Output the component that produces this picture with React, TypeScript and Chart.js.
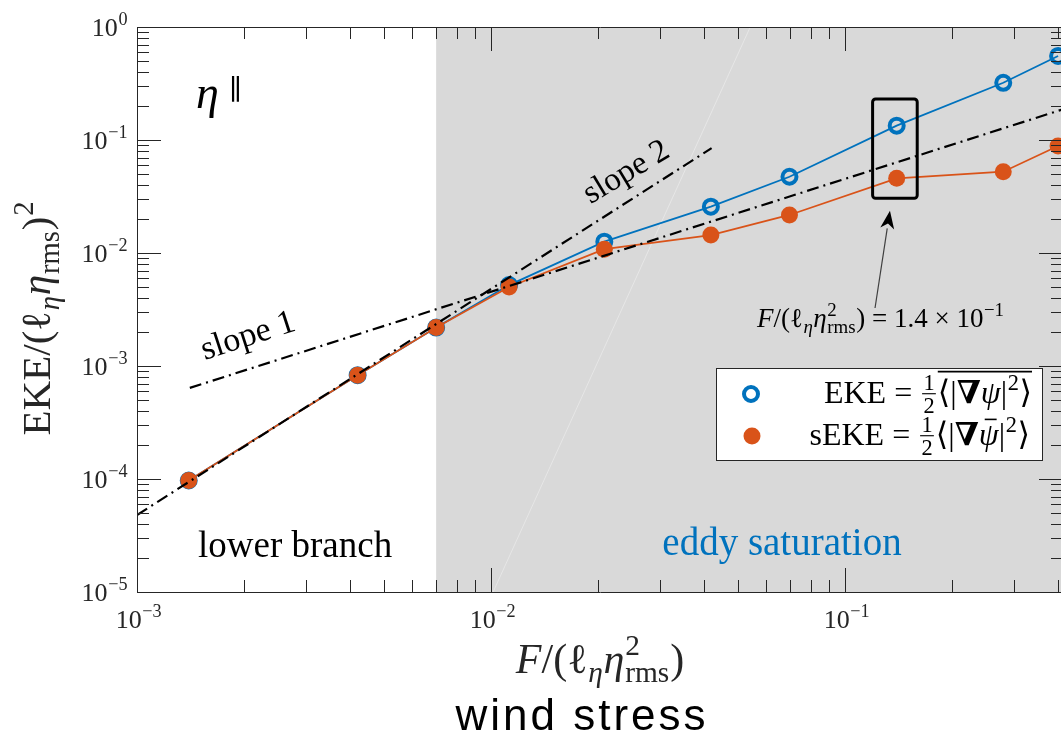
import React, { useEffect, useRef } from 'react';
import { Chart, registerables } from 'chart.js';

Chart.register(...registerables);

// Forcing F/(l_eta eta_rms^2) of each run and the two energy measures
const forcing = [1.4e-3, 4.2e-3, 7.0e-3, 1.125e-2, 2.09e-2, 4.18e-2, 6.97e-2, 1.4e-1, 2.8e-1, 4.0e-1];
const ekeValues = [9.7e-5, 8.3e-4, 2.19e-3, 5.2e-3, 1.26e-2, 2.57e-2, 4.73e-2, 1.34e-1, 3.21e-1, 5.54e-1];
const sekeValues = [9.7e-5, 8.3e-4, 2.19e-3, 5.0e-3, 1.08e-2, 1.44e-2, 2.17e-2, 4.58e-2, 5.24e-2, 8.85e-2];

// Reference power laws (end points)
const slopeOneX = [1.41e-3, 0.413];
const slopeOneY = [6.4e-4, 0.187];
const slopeTwoX = [1e-3, 0.042];
const slopeTwoY = [4.8e-5, 0.0847];

// Faint guide line across the shaded regime
const guideX = [0.01014, 0.054];
const guideY = [1e-5, 1];

// Start of the eddy-saturation regime
const saturationStart = 7.0e-3;

// Axis ranges and decade labels
const xRange = [1e-3, 0.413];
const yRange = [1e-5, 1];
const xDecades = [-3, -2, -1];
const yDecades = [0, -1, -2, -3, -4, -5];

// Highlighted run and its arrow
const highlightX = [0.1197, 0.16];
const highlightY = [0.0305, 0.2307];
const arrowFrom = [0.1216, 3.26e-3];
const arrowTo = [0.134, 0.0237];

const BLUE = '#0072BD';
const ORANGE = '#D95319';
const AXIS = '#262626';
const SERIF = "'Liberation Serif', 'DejaVu Serif', serif";
const SANS = "'Liberation Sans', Arial, sans-serif";

type Seg = {
  t?: string;
  it?: boolean;
  b?: boolean;
  sup?: string;
  sub?: string;
  subIt?: boolean;
  over?: boolean;
  bar?: boolean;
  frac?: [string, string];
};

function fontOf(size: number, it?: boolean, b?: boolean, family = SERIF) {
  return `${it ? 'italic ' : ''}${b ? 'bold ' : ''}${size}px ${family}`;
}

function segWidth(ctx: CanvasRenderingContext2D, s: Seg, size: number) {
  if (s.frac) {
    ctx.font = fontOf(size * 0.7);
    return Math.max(ctx.measureText(s.frac[0]).width, ctx.measureText(s.frac[1]).width) + size * 0.2;
  }
  ctx.font = fontOf(size, s.it, s.b);
  const w = ctx.measureText(s.t || '').width;
  let extra = 0;
  if (s.sup) {
    ctx.font = fontOf(size * 0.7);
    extra = Math.max(extra, ctx.measureText(s.sup).width);
  }
  if (s.sub) {
    ctx.font = fontOf(size * 0.7, s.subIt);
    extra = Math.max(extra, ctx.measureText(s.sub).width);
  }
  return w + extra + (extra ? size * 0.04 : 0);
}

function drawRich(
  ctx: CanvasRenderingContext2D,
  segs: Seg[],
  x: number,
  y: number,
  size: number,
  align: 'left' | 'center' | 'right',
  color: string
) {
  const widths = segs.map((s) => segWidth(ctx, s, size));
  const total = widths.reduce((a, b) => a + b, 0);
  let cx = align === 'left' ? x : align === 'center' ? x - total / 2 : x - total;
  ctx.fillStyle = color;
  ctx.strokeStyle = color;
  ctx.textBaseline = 'alphabetic';
  ctx.textAlign = 'left';
  let overStart: number | null = null;
  let overEnd = 0;
  segs.forEach((s, i) => {
    const w = widths[i];
    if (s.frac) {
      ctx.font = fontOf(size * 0.7);
      ctx.textAlign = 'center';
      const mid = cx + w / 2;
      ctx.fillText(s.frac[0], mid, y - size * 0.4);
      ctx.fillText(s.frac[1], mid, y + size * 0.32);
      ctx.textAlign = 'left';
      ctx.lineWidth = Math.max(1, size * 0.035);
      ctx.beginPath();
      ctx.moveTo(cx + size * 0.06, y - size * 0.29);
      ctx.lineTo(cx + w - size * 0.06, y - size * 0.29);
      ctx.stroke();
    } else {
      ctx.font = fontOf(size, s.it, s.b);
      const tw = ctx.measureText(s.t || '').width;
      ctx.fillText(s.t || '', cx, y);
      if (s.bar) {
        ctx.lineWidth = Math.max(1, size * 0.05);
        ctx.beginPath();
        ctx.moveTo(cx + tw * 0.3, y - size * 0.8);
        ctx.lineTo(cx + tw * 0.9, y - size * 0.8);
        ctx.stroke();
      }
      if (s.sup) {
        ctx.font = fontOf(size * 0.7);
        ctx.fillText(s.sup, cx + tw + size * 0.02, y - size * 0.42);
      }
      if (s.sub) {
        ctx.font = fontOf(size * 0.7, s.subIt);
        ctx.fillText(s.sub, cx + tw + size * 0.02, y + size * 0.22);
      }
    }
    if (s.over) {
      if (overStart === null) overStart = cx;
      overEnd = cx + w;
    }
    cx += w;
  });
  if (overStart !== null) {
    ctx.lineWidth = Math.max(1, size * 0.05);
    ctx.beginPath();
    ctx.moveTo(overStart, y - size * 0.98);
    ctx.lineTo(overEnd, y - size * 0.98);
    ctx.stroke();
  }
}

const shadePlugin = {
  id: 'saturationShade',
  beforeDatasetsDraw(chart: any) {
    const { ctx, chartArea, scales } = chart;
    const x0 = scales.x.getPixelForValue(saturationStart);
    ctx.save();
    ctx.fillStyle = '#d9d9d9';
    ctx.fillRect(x0, chartArea.top, chartArea.right - x0, chartArea.bottom - chartArea.top);
    ctx.restore();
  },
};

const decorPlugin = {
  id: 'axesAndNotes',
  afterDatasetsDraw(chart: any) {
    const { ctx, chartArea, scales } = chart;
    const xs = scales.x;
    const ys = scales.y;
    const { left, right, top, bottom } = chartArea;
    ctx.save();

    // Highlight box around one run
    const bx0 = xs.getPixelForValue(highlightX[0]);
    const bx1 = xs.getPixelForValue(highlightX[1]);
    const by0 = ys.getPixelForValue(highlightY[1]);
    const by1 = ys.getPixelForValue(highlightY[0]);
    ctx.strokeStyle = '#000';
    ctx.lineWidth = 3;
    ctx.beginPath();
    ctx.roundRect(bx0, by0, bx1 - bx0, by1 - by0, 3);
    ctx.stroke();

    // Arrow pointing at the box
    const ax0 = xs.getPixelForValue(arrowFrom[0]);
    const ay0 = ys.getPixelForValue(arrowFrom[1]);
    const ax1 = xs.getPixelForValue(arrowTo[0]);
    const ay1 = ys.getPixelForValue(arrowTo[1]);
    const ang = Math.atan2(ay1 - ay0, ax1 - ax0);
    const hl = 18;
    const hw = 7;
    const bxp = ax1 - hl * Math.cos(ang);
    const byp = ay1 - hl * Math.sin(ang);
    ctx.strokeStyle = '#404040';
    ctx.lineWidth = 1.2;
    ctx.beginPath();
    ctx.moveTo(ax0, ay0);
    ctx.lineTo(bxp, byp);
    ctx.stroke();
    const nx = -Math.sin(ang);
    const ny = Math.cos(ang);
    const notchX = ax1 - (hl - 5) * Math.cos(ang);
    const notchY = ay1 - (hl - 5) * Math.sin(ang);
    ctx.fillStyle = '#000';
    ctx.beginPath();
    ctx.moveTo(ax1, ay1);
    ctx.lineTo(bxp + nx * hw, byp + ny * hw);
    ctx.lineTo(notchX, notchY);
    ctx.lineTo(bxp - nx * hw, byp - ny * hw);
    ctx.closePath();
    ctx.fill();

    // Frame and inward log ticks
    ctx.strokeStyle = AXIS;
    ctx.lineWidth = 1;
    ctx.beginPath();
    ctx.rect(Math.round(left) + 0.5, Math.round(top) + 0.5, Math.round(right - left), Math.round(bottom - top));
    ctx.stroke();
    ctx.beginPath();
    for (let d = -4; d <= 0; d++) {
      for (let m = 1; m <= 9; m++) {
        const v = m * Math.pow(10, d);
        if (v < xRange[0] * 0.999 || v > xRange[1] * 1.001) continue;
        const px = Math.round(xs.getPixelForValue(v)) + 0.5;
        const len = m === 1 ? 24 : 12;
        ctx.moveTo(px, bottom);
        ctx.lineTo(px, bottom - len);
        ctx.moveTo(px, top);
        ctx.lineTo(px, top + len);
      }
    }
    for (let d = -5; d <= 0; d++) {
      for (let m = 1; m <= 9; m++) {
        const v = m * Math.pow(10, d);
        if (v < yRange[0] * 0.999 || v > yRange[1] * 1.001) continue;
        const py = Math.round(ys.getPixelForValue(v)) + 0.5;
        const len = m === 1 ? 24 : 12;
        ctx.moveTo(left, py);
        ctx.lineTo(left + len, py);
        ctx.moveTo(right, py);
        ctx.lineTo(right - len, py);
      }
    }
    ctx.stroke();

    // Tick labels
    yDecades.forEach((d) => {
      const py = ys.getPixelForValue(Math.pow(10, d));
      const e = d === 0 ? '0' : '\u2212' + String(-d);
      drawRich(ctx, [{ t: '10', sup: e }], 128, py + 9, 26, 'right', AXIS);
    });
    xDecades.forEach((d) => {
      const px = xs.getPixelForValue(Math.pow(10, d));
      drawRich(ctx, [{ t: '10', sup: '\u2212' + String(-d) }], px + 2, 628, 26, 'center', AXIS);
    });

    // Axis titles
    drawRich(
      ctx,
      [
        { t: 'F', it: true },
        { t: '/(' },
        { t: '\u2113', sub: '\u03b7', subIt: true },
        { t: '\u03b7', it: true, sup: '2', sub: 'rms' },
        { t: ')' },
      ],
      600,
      673,
      42,
      'center',
      AXIS
    );
    ctx.save();
    ctx.translate(50, 318);
    ctx.rotate(-Math.PI / 2);
    drawRich(
      ctx,
      [
        { t: 'EKE/(' },
        { t: '\u2113', sub: '\u03b7', subIt: true },
        { t: '\u03b7', it: true, sub: 'rms' },
        { t: ')', sup: '2' },
      ],
      0,
      0,
      41,
      'center',
      AXIS
    );
    ctx.restore();

    // Caption under the axis
    ctx.font = `44px ${SANS}`;
    ctx.fillStyle = '#000';
    ctx.textAlign = 'center';
    (ctx as any).letterSpacing = '3px';
    ctx.fillText('wind stress', 582, 730);
    (ctx as any).letterSpacing = '0px';

    // Panel label
    drawRich(ctx, [{ t: '\u03b7', it: true }], 196, 108, 46, 'left', '#000');
    drawRich(ctx, [{ t: '\u2225' }], 229, 99, 28, 'left', '#000');

    // Slope labels
    ctx.save();
    ctx.translate(251, 345);
    ctx.rotate((-18 * Math.PI) / 180);
    drawRich(ctx, [{ t: 'slope 1' }], 0, 0, 34, 'center', '#000');
    ctx.restore();
    ctx.save();
    ctx.translate(631, 180);
    ctx.rotate((-31 * Math.PI) / 180);
    drawRich(ctx, [{ t: 'slope 2' }], 0, 0, 33, 'center', '#000');
    ctx.restore();

    // Regime labels
    drawRich(ctx, [{ t: 'lower branch' }], 198, 557, 37, 'left', '#000');
    drawRich(ctx, [{ t: 'eddy saturation' }], 782, 555, 39, 'center', BLUE);

    // Annotation for the highlighted run
    drawRich(
      ctx,
      [
        { t: 'F', it: true },
        { t: '/(' },
        { t: '\u2113', sub: '\u03b7', subIt: true },
        { t: '\u03b7', it: true, sup: '2', sub: 'rms' },
        { t: ') = 1.4 \u00d7 10', sup: '\u22121' },
      ],
      757,
      327,
      27,
      'left',
      '#000'
    );

    // Legend
    const lx0 = 716;
    const ly0 = 368;
    const lx1 = 1042;
    const ly1 = 460;
    ctx.fillStyle = '#fff';
    ctx.fillRect(lx0, ly0, lx1 - lx0, ly1 - ly0);
    ctx.strokeStyle = AXIS;
    ctx.lineWidth = 1;
    ctx.strokeRect(lx0 + 0.5, ly0 + 0.5, lx1 - lx0, ly1 - ly0);
    ctx.strokeStyle = BLUE;
    ctx.lineWidth = 4;
    ctx.beginPath();
    ctx.arc(751, 394, 7, 0, Math.PI * 2);
    ctx.stroke();
    ctx.fillStyle = ORANGE;
    ctx.beginPath();
    ctx.arc(752, 436, 8.5, 0, Math.PI * 2);
    ctx.fill();
    drawRich(
      ctx,
      [
        { t: 'EKE = ' },
        { frac: ['1', '2'] },
        { t: '\u27e8|', over: true },
        { t: '\u2207', b: true, over: true },
        { t: '\u03c8', it: true, over: true },
        { t: '|', sup: '2', over: true },
        { t: '\u27e9', over: true },
      ],
      1032,
      403,
      32,
      'right',
      '#000'
    );
    drawRich(
      ctx,
      [
        { t: 'sEKE = ' },
        { frac: ['1', '2'] },
        { t: '\u27e8|' },
        { t: '\u2207', b: true },
        { t: '\u03c8', it: true, bar: true },
        { t: '|', sup: '2' },
        { t: '\u27e9' },
      ],
      1030,
      445,
      32,
      'right',
      '#000'
    );

    ctx.restore();
  },
};

const toPoints = (xs: number[], ys: number[]) => xs.map((x, i) => ({ x, y: ys[i] }));

export default function App() {
  const canvasRef = useRef<HTMLCanvasElement | null>(null);

  useEffect(() => {
    const canvas = canvasRef.current;
    if (!canvas) return;
    const chart = new Chart(canvas, {
      type: 'line',
      data: {
        datasets: [
          {
            label: 'slope 1',
            data: toPoints(slopeOneX, slopeOneY),
            borderColor: '#000',
            borderWidth: 2.2,
            borderDash: [12, 5, 2, 5],
            pointRadius: 0,
          },
          {
            label: 'slope 2',
            data: toPoints(slopeTwoX, slopeTwoY),
            borderColor: '#000',
            borderWidth: 2.2,
            borderDash: [12, 5, 2, 5],
            pointRadius: 0,
          },
          {
            label: 'sEKE',
            data: toPoints(forcing, sekeValues),
            borderColor: ORANGE,
            backgroundColor: ORANGE,
            borderWidth: 1.8,
            pointRadius: 8.5,
            pointBorderWidth: 0,
            pointBackgroundColor: ORANGE,
            clip: false,
          },
          {
            label: 'EKE',
            data: toPoints(forcing, ekeValues),
            borderColor: BLUE,
            borderWidth: 1.8,
            pointRadius: 7,
            pointBorderWidth: 4,
            pointBorderColor: BLUE,
            pointBackgroundColor: 'rgba(0,0,0,0)',
            clip: false,
          },
          {
            label: 'guide',
            data: toPoints(guideX, guideY),
            borderColor: 'rgba(255,255,255,0.35)',
            borderWidth: 1,
            pointRadius: 0,
          },
        ],
      },
      options: {
        animation: false,
        responsive: false,
        maintainAspectRatio: false,
        events: [],
        layout: { padding: { left: 137, top: 27, right: 27, bottom: 147 } },
        plugins: { legend: { display: false }, tooltip: { enabled: false } },
        scales: {
          x: { type: 'logarithmic', min: xRange[0], max: xRange[1], display: false },
          y: { type: 'logarithmic', min: yRange[0], max: yRange[1], display: false },
        },
      },
      plugins: [shadePlugin, decorPlugin],
    } as any);
    return () => chart.destroy();
  }, []);

  return (
    <div
      style={{
        position: 'fixed',
        left: 0,
        top: 0,
        width: 1061,
        height: 739,
        overflow: 'hidden',
        background: '#fff',
      }}
    >
      <canvas ref={canvasRef} width={1090} height={739} style={{ width: 1090, height: 739, display: 'block' }} />
    </div>
  );
}
